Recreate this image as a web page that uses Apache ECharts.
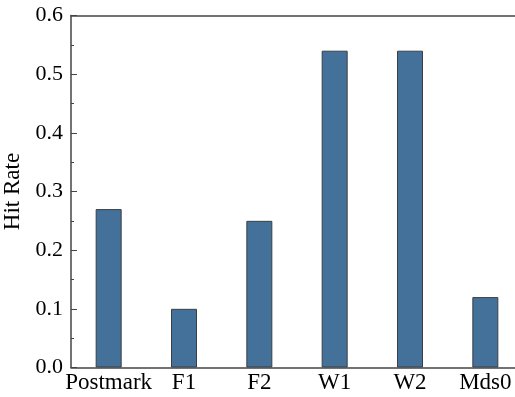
<!DOCTYPE html>
<html>
<head>
<meta charset="utf-8">
<script src="https://cdn.jsdelivr.net/npm/echarts@6/dist/echarts.min.js"></script>
<style>html,body{margin:0;padding:0;background:#fff;}#c{width:515px;height:397px;}</style>
</head>
<body>
<div id="c"></div>
<script>
const categories = ['Postmark', 'F1', 'F2', 'W1', 'W2', 'Mds0'];
const hitRate = [0.27, 0.10, 0.25, 0.54, 0.54, 0.12];
const yTicks = [0, 0.1, 0.2, 0.3, 0.4, 0.5, 0.6];

const chart = echarts.init(document.getElementById('c'), null, {renderer: 'canvas'});
const font = 'Times New Roman, Liberation Serif, serif';
chart.setOption({
  animation: false,
  backgroundColor: '#fff',
  textStyle: {fontFamily: font},
  grid: {left: 71, top: 15.5, right: -8, bottom: 29.5, containLabel: false, outerBoundsMode: 'none'},
  xAxis: [{
    type: 'category',
    data: categories,
    axisLine: {show: true, lineStyle: {color: '#444', width: 1.5}},
    axisTick: {show: false},
    axisLabel: {color: '#000', fontFamily: font, fontSize: 23, margin: 4, interval: 0}
  }, {
    type: 'category',
    data: categories,
    position: 'top',
    axisLine: {show: true, lineStyle: {color: '#444', width: 1.5}},
    axisTick: {show: false},
    axisLabel: {show: false}
  }],
  yAxis: {
    type: 'value',
    min: 0, max: 0.6, interval: 0.1,
    name: 'Hit Rate',
    nameLocation: 'middle',
    nameGap: 41,
    nameRotate: 90,
    nameTextStyle: {color: '#000', fontFamily: font, fontSize: 23},
    axisLine: {show: true, lineStyle: {color: '#444', width: 1.5}},
    axisTick: {show: true, inside: true, length: 6, lineStyle: {color: '#444', width: 1}},
    minorTick: {show: true, splitNumber: 2, length: 3, lineStyle: {color: '#444', width: 1}},
    splitLine: {show: false},
    axisLabel: {color: '#000', fontFamily: font, fontSize: 22, margin: 8,
      formatter: v => { const t = yTicks.find(x => Math.abs(x - v) < 1e-9); return (t !== undefined ? t : v).toFixed(1); }}
  },
  series: [{
    type: 'bar',
    data: hitRate,
    barWidth: 26,
    itemStyle: {color: '#43719a', borderColor: '#3a3f45', borderWidth: 1}
  }]
});
</script>
</body>
</html>
